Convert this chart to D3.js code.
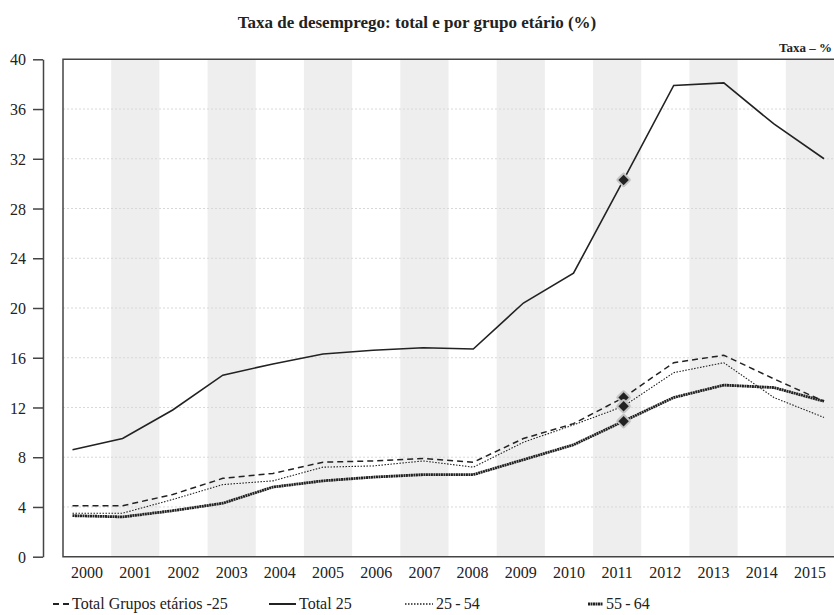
<!DOCTYPE html>
<html>
<head>
    <meta charset="utf-8">
    <title>Taxa de desemprego</title>
    <script src="https://cdn.jsdelivr.net/npm/d3@7"></script>
    <style>
        body { margin: 0; background: #fff; }
        svg { display: block; font-family: "Liberation Serif", "Times New Roman", serif; }
        .title { font-size: 17px; font-weight: bold; fill: #222; }
        .unit { font-size: 13px; font-weight: bold; fill: #222; }
        .band { fill: #eeeeee; }
        .grid line { stroke: #d8d8d8; stroke-dasharray: 2,2; stroke-width: 1px; }
        .frame { stroke: #444; stroke-width: 1.5px; fill: none; }
        .yaxis path, .yaxis line { stroke: #444; stroke-width: 1.5px; }
        .yaxis text, .xlab { font-size: 16px; fill: #222; font-family: "Liberation Serif", serif; }
        .legend text { font-size: 16px; fill: #222; }
        .series { fill: none; stroke: #222; }
    </style>
</head>
<body>
<script type="text/javascript">
    var years = [2000, 2001, 2002, 2003, 2004, 2005, 2006, 2007,
                 2008, 2009, 2010, 2011, 2012, 2013, 2014, 2015];

    var totalGrupos = [4.1, 4.1, 5.0, 6.3, 6.7, 7.6, 7.7, 7.9,
                       7.6, 9.5, 10.7, 12.8, 15.6, 16.2, 14.3, 12.5];
    var total25 = [8.6, 9.5, 11.8, 14.6, 15.5, 16.3, 16.6, 16.8,
                   16.7, 20.4, 22.8, 30.3, 37.9, 38.1, 34.8, 32.0];
    var g25_54 = [3.5, 3.5, 4.6, 5.8, 6.1, 7.2, 7.3, 7.7,
                  7.2, 9.2, 10.6, 12.1, 14.8, 15.6, 12.8, 11.2];
    var g55_64 = [3.3, 3.2, 3.7, 4.3, 5.6, 6.1, 6.4, 6.6,
                  6.6, 7.8, 9.0, 10.9, 12.8, 13.8, 13.6, 12.5];

    var yTicks = [0, 4, 8, 12, 16, 20, 24, 28, 32, 36, 40];
    var markerYear = 2011;

    var series = [
        {name: "Total Grupos etários -25", values: totalGrupos, width: 1.5, dash: "6,4"},
        {name: "Total 25", values: total25, width: 1.6, dash: null},
        {name: "25\u2009-\u200954", values: g25_54, width: 1.1, dash: "1.5,1.5"},
        {name: "55\u2009-\u200964", values: g55_64, width: 2.8, dash: "2,0.5"}
    ];

    var width = 834, height = 615;
    var plotL = 63, plotR = 834, plotT = 59.3, plotB = 556.7;

    var svg = d3.select("body").append("svg")
        .attr("width", width)
        .attr("height", height);

    var xBand = d3.scaleBand().domain(years).range([plotL, plotR]);
    var xPt = d3.scalePoint().domain(years).range([72.5, 824]);
    var y = d3.scaleLinear().domain([0, 40]).range([plotB, plotT]);

    // alternating shaded year columns
    svg.selectAll("rect.band")
        .data(years.filter(function (d, i) { return i % 2 === 1; }))
        .enter().append("rect")
        .attr("class", "band")
        .attr("x", function (d) { return xBand(d); })
        .attr("y", plotT)
        .attr("width", xBand.bandwidth())
        .attr("height", plotB - plotT);

    // dotted gridlines
    svg.append("g")
        .attr("class", "grid")
        .selectAll("line")
        .data(yTicks.filter(function (d) { return d > 0 && d < 40; }))
        .enter().append("line")
        .attr("x1", plotL).attr("x2", plotR)
        .attr("y1", function (d) { return y(d); })
        .attr("y2", function (d) { return y(d); });

    // plot frame (top, left, bottom)
    svg.append("path")
        .attr("class", "frame")
        .attr("d", "M" + plotR + "," + plotT + "H" + plotL + "V" + plotB + "H" + plotR);

    // detached y axis
    svg.append("g")
        .attr("class", "yaxis")
        .attr("transform", "translate(43,0)")
        .call(d3.axisLeft(y).tickValues(yTicks).tickSize(10).tickSizeOuter(0).tickPadding(7))
        .call(function (g) { g.selectAll("text").attr("dy", "0.35em"); });

    // year labels
    svg.selectAll("text.xlab")
        .data(years)
        .enter().append("text")
        .attr("class", "xlab")
        .attr("x", function (d) { return xBand(d) + xBand.bandwidth() / 2; })
        .attr("y", 578)
        .attr("text-anchor", "middle")
        .text(function (d) { return d; });

    var line = d3.line()
        .x(function (d, i) { return xPt(years[i]); })
        .y(function (d) { return y(d); });

    series.forEach(function (s) {
        svg.append("path")
            .datum(s.values)
            .attr("class", "series")
            .attr("stroke-width", s.width)
            .attr("stroke-dasharray", s.dash)
            .attr("d", line);
    });

    // 2011 diamond markers
    var mi = years.indexOf(markerYear);
    svg.selectAll("path.marker")
        .data(series)
        .enter().append("path")
        .attr("class", "marker")
        .attr("d", d3.symbol().type(d3.symbolDiamond2).size(70))
        .attr("transform", function (s) {
            return "translate(" + xPt(markerYear) + "," + y(s.values[mi]) + ")";
        })
        .attr("fill", "#222")
        .attr("stroke", "#c4c4c4")
        .attr("stroke-width", 4)
        .attr("stroke-linejoin", "round")
        .attr("paint-order", "stroke");

    // titles
    svg.append("text")
        .attr("class", "title")
        .attr("x", 417).attr("y", 28)
        .attr("text-anchor", "middle")
        .text("Taxa de desemprego: total e por grupo etário (%)");

    svg.append("text")
        .attr("class", "unit")
        .attr("x", 832).attr("y", 52)
        .attr("text-anchor", "end")
        .text("Taxa \u2013 %");

    // legend
    var legendPos = [
        {x1: 53, x2: 69, tx: 72},
        {x1: 269, x2: 296, tx: 299},
        {x1: 405, x2: 433, tx: 436},
        {x1: 588, x2: 603, tx: 606}
    ];
    var legend = svg.append("g").attr("class", "legend");
    series.forEach(function (s, i) {
        var p = legendPos[i];
        legend.append("line")
            .attr("x1", p.x1).attr("x2", p.x2)
            .attr("y1", 604).attr("y2", 604)
            .attr("stroke", "#222")
            .attr("stroke-width", s.width + 0.4)
            .attr("stroke-dasharray", s.dash);
        legend.append("text")
            .attr("x", p.tx).attr("y", 609)
            .text(s.name);
    });
</script>
</body>
</html>
